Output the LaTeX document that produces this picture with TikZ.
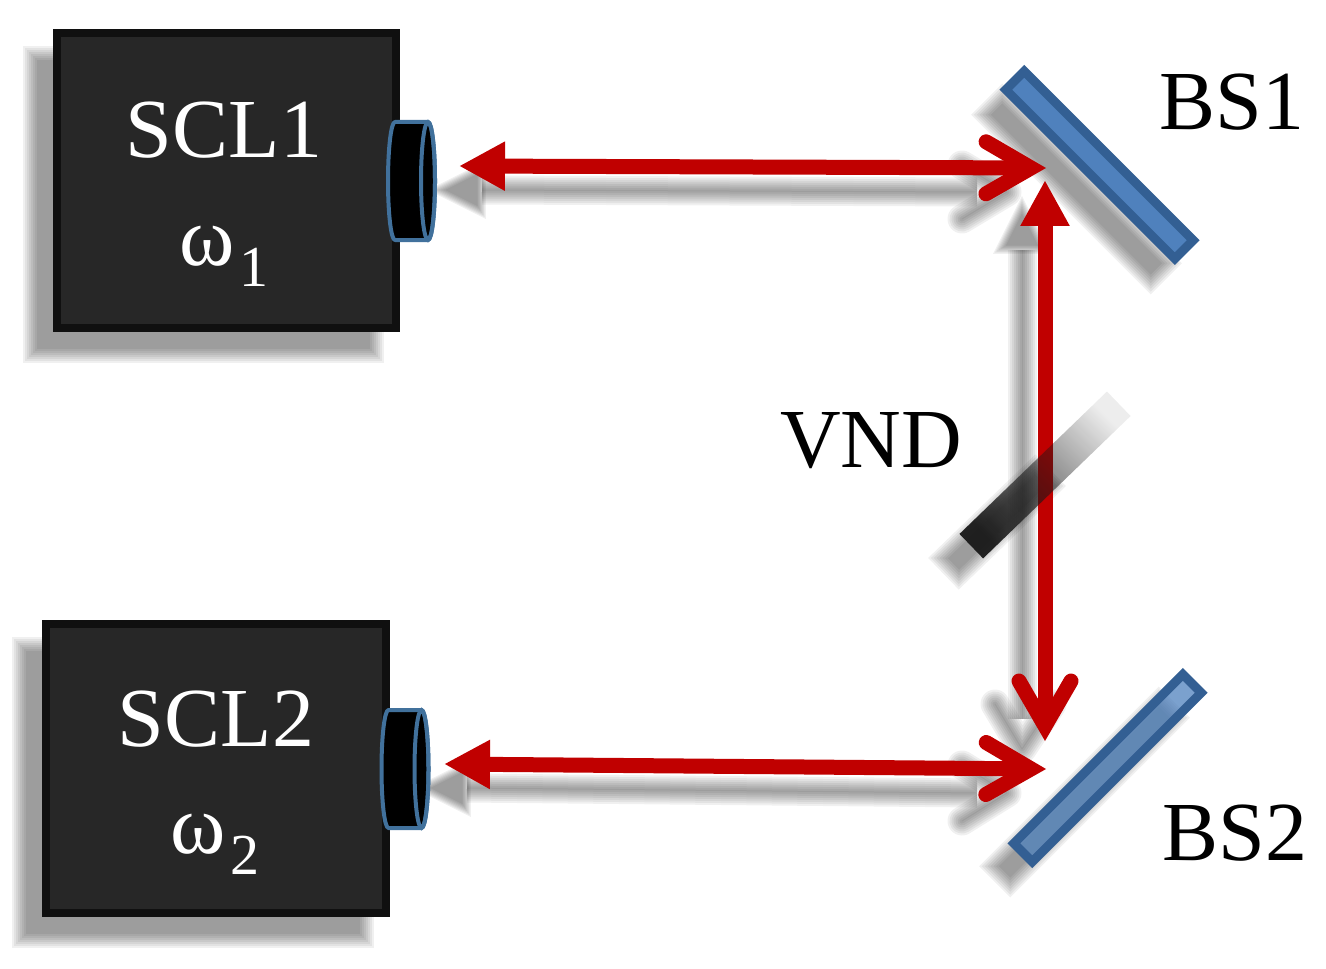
\documentclass[tikz,border=0pt]{standalone}
\usepackage{fontspec}
\setmainfont{Liberation Serif}
\usetikzlibrary{arrows.meta, fadings}
\definecolor{beamred}{HTML}{C00000}
\definecolor{boxgray}{HTML}{272727}
\definecolor{boxedge}{HTML}{101010}
\definecolor{lensblue}{HTML}{41719C}
\definecolor{mirroredge}{HTML}{335F93}
\definecolor{mirrorblue}{HTML}{4F81BD}
\tikzfading[name=vndfade, left color=transparent!5, middle color=transparent!25, right color=transparent!92]
\tikzset{
	x=0.5pt, y=-0.5pt, % un pixel de la referencia
	barbhead/.tip={Straight Barb[length=22.5pt, width=26pt, line width=7.5pt, line join=miter, line cap=round]},
	trihead/.tip={Triangle[length=23pt, width=23pt]},
	beam/.style={draw=beamred, line width=7.5pt, line cap=butt},
	laser/.style={rectangle, draw=boxedge, fill=boxgray, line width=4pt, inner sep=0pt},
	lensbody/.pic={
		\path[fill=black, draw=lensblue, line width=2pt, line join=round]
			(-17,-59) .. controls (-21,-59) and (-24,-32) .. (-24,0)
			.. controls (-24,32) and (-21,59) .. (-17,59) -- (16,59)
			.. controls (20,59) and (23,32) .. (23,0)
			.. controls (23,-32) and (20,-59) .. (16,-59) -- cycle;
		\draw[lensblue, line width=2pt] (16,0) ellipse [x radius=7, y radius=59];
	},
	mirror/.style={rectangle, draw=mirroredge, fill=mirrorblue, line width=4.5pt, line join=miter,
		minimum width=119.5pt, minimum height=13pt, inner sep=0pt},
	filter/.style={rectangle, fill=black!90, minimum width=102.5pt, minimum height=17pt, inner sep=0pt},
	bigtext/.style={font=\fontsize{42}{46}\selectfont, inner sep=0pt},
	whitetext/.style={bigtext, text=white},
	softlayer/.style={black, opacity=0.06, line join=round}
}
% sombra difusa de una linea: se apilan trazos de distinto grosor
\newcommand{\softstroke}[3][]{
	\foreach \wd in {-7,-5,-3,-1,1,3,5,7}
		\draw[softlayer, #1, line width={(#2+2*\wd)*0.5pt}, shift={(-23,24)}] #3;
}
% sombra difusa de un rectangulo: centro, ancho, alto, giro
\newcommand{\softbox}[4]{
	\foreach \gr in {-7,-5,-3,-1,1,3,5,7}
		\fill[softlayer, shift={#1}, shift={(-23,24)}, rotate=#4]
			({-#2/2-\gr},{-#3/2-\gr}) rectangle ({#2/2+\gr},{#3/2+\gr});
}
% sombra difusa de la punta triangular: centro, giro
\newcommand{\softtip}[2]{
	\foreach \sc in {0.7,0.78,0.86,0.94,1.02,1.1,1.18,1.26}
		\fill[softlayer, shift={#1}, shift={(-23,24)}, rotate=#2, scale=\sc]
			(-31,0) -- (15,-23) -- (15,23) -- cycle;
}
\newcommand{\subnum}[1]{\kern2pt\raisebox{-10.5pt}{\fontsize{29}{32}\selectfont #1}}
\begin{document}
\begin{tikzpicture}
	\useasboundingbox (0,0) rectangle (1326,968);
	% puntos extremos de los haces
	\coordinate (beam1a) at (459,166);
	\coordinate (beam1b) at (1046,168);
	\coordinate (beam2a) at (444,764);
	\coordinate (beam2b) at (1046,769);
	\coordinate (beam3a) at (1045,180);
	\coordinate (beam3b) at (1045,741);
	% sombras
	\softbox{(226.5,180.5)}{347}{303}{0}
	\softbox{(216,768.5)}{348}{297}{0}
	\softbox{(1099.5,165)}{240}{30}{-45}
	\softbox{(1107.5,768)}{240}{30}{45}
	\softstroke{15}{(505,166) -- (1000,168)}
	\softstroke{15}{(490,764) -- (1000,769)}
	\softstroke{15}{(1045,226) -- (1045,695)}
	\softstroke[line cap=round]{15}{(985,141) -- (1030,168) -- (985,195)}
	\softstroke[line cap=round]{15}{(985,741) -- (1030,769) -- (985,797)}
	\softstroke[line cap=round]{15}{(1018,680) -- (1045,725) -- (1075,680)}
	\softtip{(490,166)}{0}
	\softtip{(475,764)}{0}
	\softtip{(1045,211)}{-90}
	\softbox{(1020,498)}{135}{30}{44}
	% laseres
	\node[laser, minimum width=169.5pt, minimum height=147.5pt] (scl1) at (226.5,180.5) {};
	\node[laser, minimum width=170pt, minimum height=144.5pt] (scl2) at (216,768.5) {};
	\pic (lens1) at (412,181) {lensbody};
	\pic (lens2) at (405.5,769) {lensbody};
	\node[whitetext] (name1) at (224,130) {SCL1};
	\node[whitetext] (freq1) at (224,256) {ω\subnum{1}};
	\node[whitetext] (name2) at (216,719) {SCL2};
	\node[whitetext] (freq2) at (215,844) {ω\subnum{2}};
	% espejos
	\node[mirror, rotate=-45] (bs1) at (1099.5,165) {};
	\node[mirror, rotate=45, fill opacity=0.75] (bs2) at (1107.5,768) {};
	% haces
	\draw[beam, {trihead}-{barbhead}] (beam1a) -- (beam1b);
	\draw[beam, {trihead}-{barbhead}] (beam2a) -- (beam2b);
	\draw[beam, {trihead}-{barbhead}] (beam3a) -- (beam3b);
	% filtro
	\node[filter, rotate=44, path fading=vndfade, fading angle=44] (vnd) at (1045,475) {};
	% etiquetas
	\node[bigtext] (bs1label) at (1232,102) {BS1};
	\node[bigtext] (bs2label) at (1235,833) {BS2};
	\node[bigtext] (vndlabel) at (871,441) {VND};
\end{tikzpicture}
\end{document}
